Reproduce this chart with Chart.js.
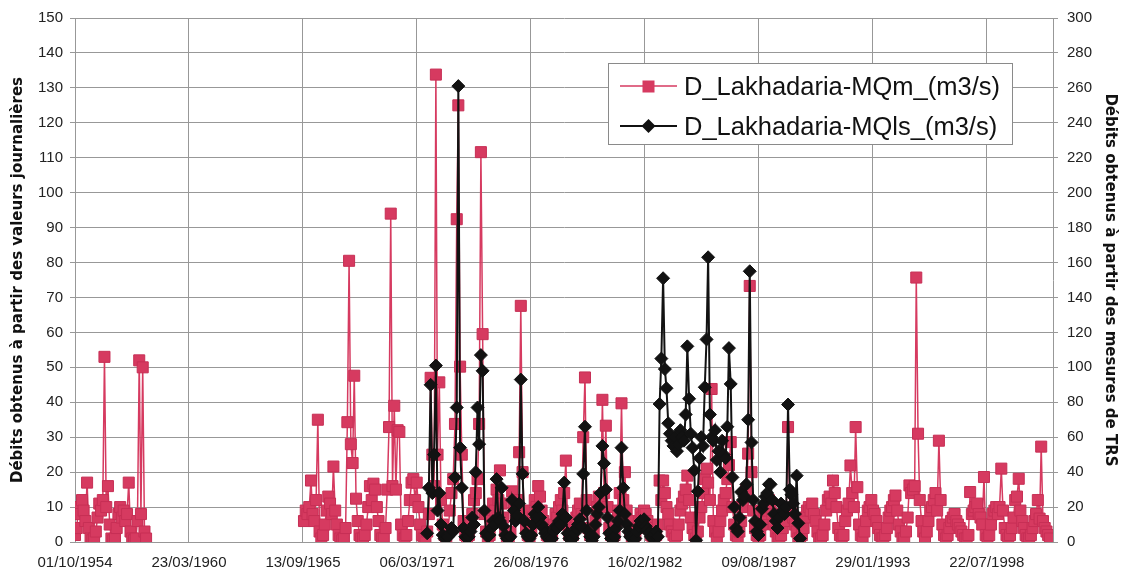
<!DOCTYPE html>
<html>
<head>
<meta charset="utf-8">
<script src="https://cdn.jsdelivr.net/npm/chart.js@4/dist/chart.umd.min.js"></script>
<style>
  body { margin: 0; background: #fff; }
  #wrap { position: relative; width: 1121px; height: 574px; }
  #legend {
    position: absolute; left: 608px; top: 63px; width: 403px; height: 80px;
    border: 1px solid #8a8a8a; background: #fff;
    font-family: "Liberation Sans", Arial, sans-serif; font-size: 25.5px; color: #111;
  }
  .row { position: absolute; left: 0; height: 40px; display: flex; align-items: center; }
  .row svg { margin-left: 11px; margin-right: 7px; }
</style>
</head>
<body>
<div id="wrap">
  <canvas id="chart" width="1121" height="574"></canvas>
  <div id="legend">
    <div class="row" style="top:2px">
      <svg width="57" height="20"><line x1="0" y1="10" x2="57" y2="10" stroke="#d63a60" stroke-width="1.5"/><rect x="22.5" y="4.5" width="12" height="12" fill="#d63a60"/></svg>
      <span>D_Lakhadaria-MQm_(m3/s)</span>
    </div>
    <div class="row" style="top:42px">
      <svg width="57" height="20"><line x1="0" y1="10" x2="57" y2="10" stroke="#111" stroke-width="2"/><polygon points="28.5,3 35.5,10 28.5,17 21.5,10" fill="#111"/></svg>
      <span>D_Lakhadaria-MQls_(m3/s)</span>
    </div>
  </div>
</div>
<script>
// x axis: days counted from 01/10/1954
const tickDays = [0, 2000, 4000, 6000, 8000, 10000, 12000, 14000, 16000];
const tickLabels = ['01/10/1954', '23/03/1960', '13/09/1965', '06/03/1971', '26/08/1976',
                    '16/02/1982', '09/08/1987', '29/01/1993', '22/07/1998'];

// MQm, monthly, 1954-10 .. 1958-03 (m3/s, left axis)
const mqmEarly = [
  2, 4, 10,
  8, 12, 9, 6, 17, 4, 1, 0.5, 1, 3, 7, 11,
  9, 12, 53, 10, 16, 5, 1, 0.5, 1, 4, 8, 10,
  7, 9, 6, 8, 17, 3, 1, 0.5, 1, 6, 52, 8,
  50, 3, 1
];

// MQm, monthly, 1965-10 .. 2001-08
const mqmLate = [
  6, 9, 8,                                              // 1965
  10, 17.6, 8, 6, 12, 35, 3, 1, 2, 5, 9, 13,            // 1966
  11, 8, 21.6, 9, 5, 2, 1, 0.5, 1, 4, 34.3, 80.5,       // 1967
  28, 22.6, 47.6, 12.4, 6, 2, 1, 1, 2, 5, 10, 16,       // 1968
  12, 16.7, 15, 10, 6, 2, 1, 1, 4, 15, 32.9, 94,        // 1969
  16, 39, 15, 32, 31.5, 5, 2, 1, 2, 6, 12, 17,          // 1970
  18, 12, 17, 10, 5, 2, 1, 1, 3, 8, 47, 25,             // 1971
  16, 133.8, 25, 45.7, 12, 5, 2, 1, 3, 9, 14, 18,       // 1972
  33.8, 92.4, 125, 50.2, 25, 6, 2, 1, 2, 5, 8, 12,      // 1973
  14, 18, 33.8, 111.6, 59.5, 8, 3, 1, 2, 6, 11, 9,      // 1974
  15, 12, 20.5, 11, 7, 3, 1, 1, 3, 14.5, 10, 8,         // 1975
  12, 25.7, 67.6, 20, 9, 4, 2, 1, 3, 7, 12, 10,         // 1976
  16, 13, 9, 6, 4, 2, 1, 1, 2, 5, 8, 7,                 // 1977
  10, 12, 9, 14, 23.3, 5, 2, 1, 2, 4, 7, 9,             // 1978
  11, 8, 30, 47.1, 12, 4, 2, 1, 3, 6, 10, 13,           // 1979
  12, 40.7, 14, 33.3, 10, 4, 2, 1, 2, 6, 9, 14,         // 1980
  39.7, 12, 20, 9, 6, 3, 1, 1, 2, 4, 6, 8,              // 1981
  7, 9, 8, 6, 4, 2, 1, 1, 2, 5, 17.6, 12,               // 1982
  17.6, 14, 10, 8, 5, 3, 2, 1, 2, 5, 9, 11,             // 1983
  13, 15, 19, 12, 7, 4, 2, 1, 3, 7, 10, 14,             // 1984
  18, 21, 17, 12, 43.8, 6, 3, 1, 3, 6, 9, 12,           // 1985
  14, 18, 22, 28.6, 10, 5, 2, 1, 3, 6, 10, 13,          // 1986
  15, 25.3, 73.3, 20, 9, 4, 2, 1, 2, 5, 8, 9,           // 1987
  10, 12, 11, 8, 5, 3, 1, 1, 2, 4, 6, 8,                // 1988
  32.9, 9, 8, 7, 5, 3, 1, 1, 2, 4, 7, 9,                // 1989
  10, 9, 11, 8, 6, 3, 1, 1, 2, 5, 9, 12,                // 1990
  13, 11, 17.6, 14, 10, 4, 2, 1, 2, 6, 9, 11,           // 1991
  21.9, 14, 10, 32.9, 15.7, 5, 2, 1, 3, 6, 9, 10,       // 1992
  12, 9, 8, 6, 4, 2, 1, 1, 2, 4, 7, 9,                  // 1993
  10, 12, 13.3, 9, 5, 3, 1, 1, 3, 7, 16.2, 14,          // 1994
  15, 16, 75.7, 31, 12, 6, 3, 1, 3, 6, 9, 10,           // 1995
  12, 14, 9, 29, 12, 5, 2, 1, 2, 4, 6, 7,               // 1996
  8, 6, 5, 4, 3, 2, 1, 1, 2, 14.3, 8, 9,                // 1997
  10, 11, 8, 7, 5, 18.6, 2, 1, 2, 5, 8, 9,              // 1998
  10, 8, 10, 21, 9, 4, 2, 1, 2, 4, 7, 12,               // 1999
  13, 18.1, 9, 6, 4, 2, 1, 1, 2, 4, 6, 8,               // 2000
  12, 6.7, 27.3, 6, 4, 3, 2, 1                          // 2001
];

// MQls, monthly, 1971-09 .. 1989-08 (m3/s, right axis)
const mqlsValues = [
  5, 31, 90, 28,                                        // 1971
  50, 101, 18, 28, 10, 4, 2, 2, 3, 5, 8, 6,             // 1972
  37, 77, 261, 54, 31, 8, 3, 2, 3, 6, 14, 10,           // 1973
  40, 77, 56, 107, 98, 18, 5, 3, 4, 8, 12, 10,          // 1974
  36, 14, 12, 31, 9, 4, 2, 2, 3, 24, 18, 12,            // 1975
  15, 22, 93, 39, 12, 5, 3, 2, 4, 10, 16, 14,           // 1976
  20, 14, 10, 8, 5, 3, 2, 1, 2, 6, 9, 8,                // 1977
  12, 10, 16, 34, 14, 5, 2, 1, 2, 5, 8, 10,             // 1978
  13, 9, 39, 66, 18, 6, 3, 1, 3, 10, 16, 20,            // 1979
  28, 55, 45, 30, 14, 5, 2, 1, 3, 8, 12, 18,            // 1980
  54, 31, 16, 10, 6, 3, 2, 1, 2, 6, 9, 12,              // 1981
  10, 13, 9, 7, 5, 3, 2, 4, 6, 3, 79, 105,              // 1982
  151, 99, 88, 68, 62, 58, 55, 60, 52, 56, 64, 60,      // 1983
  58, 73, 112, 82, 62, 54, 41, 1, 29, 48, 60, 55,       // 1984
  88.6, 116, 163, 73, 60, 58, 64, 47, 52, 40, 58, 50,   // 1985
  48, 66, 111, 90.5, 37, 20, 8, 6, 14, 28.6, 24, 26,    // 1986
  33, 70, 155, 57, 24, 12, 6, 4, 10, 19, 22, 26,        // 1987
  28, 33, 33, 24, 16, 12, 8, 14, 22, 18, 16, 20,        // 1988
  78.7, 30, 27, 22, 16, 38, 10.7, 2                     // 1989
];

const axisStart = Date.UTC(1954, 9, 1);

function dayOf(year, month) {
  return (Date.UTC(year, month - 1, 1) - axisStart) / 86400000;
}

function toPoints(startYear, startMonth, values) {
  return values.map((v, i) => {
    const m = startMonth - 1 + i;
    return { x: dayOf(startYear + Math.floor(m / 12), (m % 12) + 1), y: v };
  });
}

const mqmPoints = toPoints(1954, 10, mqmEarly)
  .concat([{ x: dayOf(1961, 1), y: null }])
  .concat(toPoints(1965, 10, mqmLate));
const mqlsPoints = toPoints(1971, 9, mqlsValues);

const gridColor = '#989898';
const tickFont = { family: '"Liberation Sans", Arial, sans-serif', size: 15 };
const titleFont = { family: '"DejaVu Sans", sans-serif', size: 15, weight: 'bold' };

new Chart(document.getElementById('chart').getContext('2d'), {
    type: 'line',
    data: {
        datasets: [
            {
                label: 'D_Lakhadaria-MQls_(m3/s)',
                data: mqlsPoints,
                yAxisID: 'yR',
                order: 0,
                borderColor: '#121212',
                backgroundColor: '#121212',
                borderWidth: 2,
                pointStyle: 'rectRot',
                pointRadius: 6.5,
                pointBorderWidth: 1,
                tension: 0
            },
            {
                label: 'D_Lakhadaria-MQm_(m3/s)',
                data: mqmPoints,
                yAxisID: 'yL',
                order: 1,
                borderColor: '#d63a60',
                backgroundColor: '#d63a60',
                pointBorderColor: '#c72f55',
                borderWidth: 1.5,
                pointStyle: 'rect',
                pointRadius: 7.8,
                pointBorderWidth: 1,
                tension: 0,
                spanGaps: false
            }
        ]
    },
    options: {
        responsive: false,
        animation: false,
        events: [],
        layout: { padding: { top: 15, bottom: 2, left: 0, right: 0 } },
        plugins: { legend: { display: false }, tooltip: { enabled: false } },
        scales: {
            x: {
                type: 'linear',
                min: 0,
                max: 17160,
                afterBuildTicks: (axis) => { axis.ticks = tickDays.map(v => ({ value: v })); },
                afterFit: (axis) => { axis.height = 30; },
                ticks: {
                    callback: (v) => tickLabels[tickDays.indexOf(v)],
                    font: tickFont,
                    color: '#222',
                    padding: 12,
                    maxRotation: 0,
                    autoSkip: false
                },
                grid: { color: gridColor, drawTicks: false },
                border: { color: gridColor }
            },
            yL: {
                position: 'left',
                min: 0,
                max: 150,
                afterFit: (axis) => { axis.width = 75; },
                ticks: { stepSize: 10, font: tickFont, color: '#222', padding: 7 },
                grid: { color: gridColor, tickLength: 5 },
                border: { color: gridColor },
                title: {
                    display: true,
                    text: 'Débits obtenus à partir des valeurs journalières',
                    font: titleFont,
                    color: '#111',
                    padding: { top: 9, bottom: 0 }
                }
            },
            yR: {
                position: 'right',
                min: 0,
                max: 300,
                afterFit: (axis) => { axis.width = 68; },
                ticks: { stepSize: 20, font: tickFont, color: '#222', padding: 9 },
                grid: { drawOnChartArea: false, color: gridColor, tickLength: 5 },
                border: { color: gridColor },
                title: {
                    display: true,
                    text: 'Débits obtenus à partir des mesures de TRS',
                    font: titleFont,
                    color: '#111',
                    padding: { top: 2, bottom: 0 }
                }
            }
        }
    }
});
</script>
</body>
</html>
